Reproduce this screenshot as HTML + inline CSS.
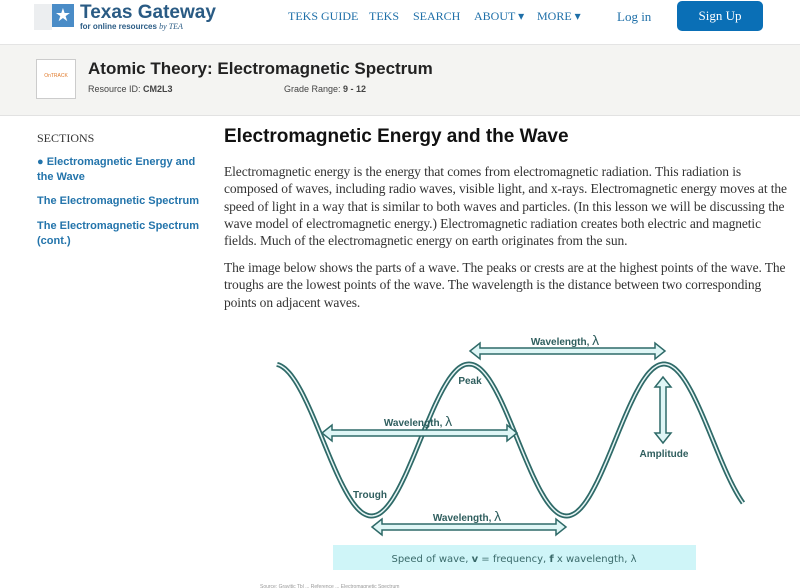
<!DOCTYPE html>
<html><head><meta charset="utf-8"><style>
body{margin:0;width:800px;height:588px;overflow:hidden;background:#fff;font-family:"Liberation Sans",sans-serif;position:relative}
.a{position:absolute;white-space:nowrap}
.nav{font-family:"Liberation Serif",serif;color:#1e6fa8;font-size:12px;top:9px}
.p{font-family:"Liberation Serif",serif;font-size:13.5px;color:#333;line-height:17.3px;left:224px;width:568px;white-space:normal;letter-spacing:-0.1px}
.s{color:#2374ab;font-weight:bold;font-size:11px;line-height:15px}
</style></head><body>
<div class="a" style="left:0;top:0;width:800px;height:44px;border-bottom:1px solid #e4e4e4"></div>
<div class="a" style="left:34px;top:4px;width:18px;height:26px;background:#eceef0"></div>
<div class="a" style="left:52px;top:4px;width:22px;height:23px;background:#4a8cc7;color:#fff;font-size:18px;text-align:center;line-height:23px">★</div>
<div class="a" style="left:80px;top:2px;font-size:19px;font-weight:bold;color:#2a5b84">Texas Gateway</div>
<div class="a" style="left:80px;top:22px;font-size:8px;font-weight:bold;color:#2a5b84">for online resources <i style="font-weight:normal;font-family:'Liberation Serif',serif">by TEA</i></div>
<div class="a nav" style="left:288px">TEKS GUIDE</div>
<div class="a nav" style="left:369px">TEKS</div>
<div class="a nav" style="left:413px">SEARCH</div>
<div class="a nav" style="left:474px">ABOUT ▾</div>
<div class="a nav" style="left:537px">MORE ▾</div>
<div class="a nav" style="left:617px;font-size:13px">Log in</div>
<div class="a" style="left:677px;top:1px;width:86px;height:30px;background:#0a6fb6;border-radius:5px;color:#fff;font-family:'Liberation Serif',serif;font-size:13px;text-align:center;line-height:30px">Sign Up</div>
<div class="a" style="left:0;top:45px;width:800px;height:70px;background:#f4f4f2;border-bottom:1px solid #e2e2e2"></div>
<div class="a" style="left:36px;top:59px;width:38px;height:38px;background:#fff;border:1px solid #ccc;font-size:5px;color:#e07a2a;text-align:center;line-height:32px">OnTRACK</div>
<div class="a" style="left:88px;top:59px;font-size:17px;font-weight:bold;color:#222">Atomic Theory: Electromagnetic Spectrum</div>
<div class="a" style="left:88px;top:84px;font-size:9px;color:#444">Resource ID: <b>CM2L3</b></div>
<div class="a" style="left:284px;top:84px;font-size:9px;color:#444">Grade Range: <b>9 - 12</b></div>
<div class="a" style="left:37px;top:131px;font-family:'Liberation Serif',serif;font-size:12px;color:#333">SECTIONS</div>
<div class="a s" style="left:37px;top:155px">● Electromagnetic Energy and<br>the Wave</div>
<div class="a s" style="left:37px;top:194px">The Electromagnetic Spectrum</div>
<div class="a s" style="left:37px;top:219px">The Electromagnetic Spectrum<br>(cont.)</div>
<div class="a" style="left:224px;top:126px;font-size:19px;font-weight:bold;color:#111">Electromagnetic Energy and the Wave</div>
<div class="a p" style="top:163px">Electromagnetic energy is the energy that comes from electromagnetic radiation. This radiation is<br>composed of waves, including radio waves, visible light, and x-rays. Electromagnetic energy moves at the<br>speed of light in a way that is similar to both waves and particles. (In this lesson we will be discussing the<br>wave model of electromagnetic energy.) Electromagnetic radiation creates both electric and magnetic<br>fields. Much of the electromagnetic energy on earth originates from the sun.</div>
<div class="a p" style="top:259px">The image below shows the parts of a wave. The peaks or crests are at the highest points of the wave. The<br>troughs are the lowest points of the wave. The wavelength is the distance between two corresponding<br>points on adjacent waves.</div>
<svg class="a" style="left:0;top:0" width="800" height="588" id="sv">
<path id="w" fill="none" stroke="#2f6a68" stroke-width="5"/>
<path id="w2" fill="none" stroke="#e8f6f6" stroke-width="1.5"/>
<g fill="#dff6f6" stroke="#2f6a68" stroke-width="1.5">
<path d="M470,351 l10,-8 v5 h175 v-5 l10,8 l-10,8 v-5 h-175 v5z"/>
<path d="M322,433 l10,-8 v5 h175 v-5 l10,8 l-10,8 v-5 h-175 v5z"/>
<path d="M372,527 l10,-8 v5 h174 v-5 l10,8 l-10,8 v-5 h-174 v5z"/>
<path d="M663,377 l8,10 h-5 v46 h5 l-8,10 l-8,-10 h5 v-46 h-5z"/>
</g>
<g font-family="Liberation Sans,sans-serif" font-weight="bold" font-size="10" fill="#2f5e5e" text-anchor="middle">
<text x="565" y="345">Wavelength, <tspan font-size="14" font-weight="normal">λ</tspan></text>
<text x="418" y="426">Wavelength, <tspan font-size="14" font-weight="normal">λ</tspan></text>
<text x="467" y="521">Wavelength, <tspan font-size="14" font-weight="normal">λ</tspan></text>
<text x="470" y="384">Peak</text><text x="370" y="498">Trough</text><text x="664" y="457">Amplitude</text></g>
<rect x="333" y="545" width="363" height="25" fill="#cff5f8"/>
<text x="514" y="562" font-family="DejaVu Sans,sans-serif" font-size="10" fill="#3a6a6a" text-anchor="middle">Speed of wave, <tspan font-weight="bold">v</tspan> = frequency, <tspan font-weight="bold">f</tspan> x wavelength, λ</text>
<text x="260" y="588" font-size="5" fill="#999">Source: Gravitic Tbl ... Reference ... Electromagnetic Spectrum</text>
</svg>
<script>
var d="";for(var x=277;x<=744;x+=2){var y=440-76*Math.cos((x-469)/195*2*Math.PI);d+=(x==277?"M":"L")+x+","+y.toFixed(1);}
document.getElementById("w").setAttribute("d",d);document.getElementById("w2").setAttribute("d",d);
</script>
</body></html>
